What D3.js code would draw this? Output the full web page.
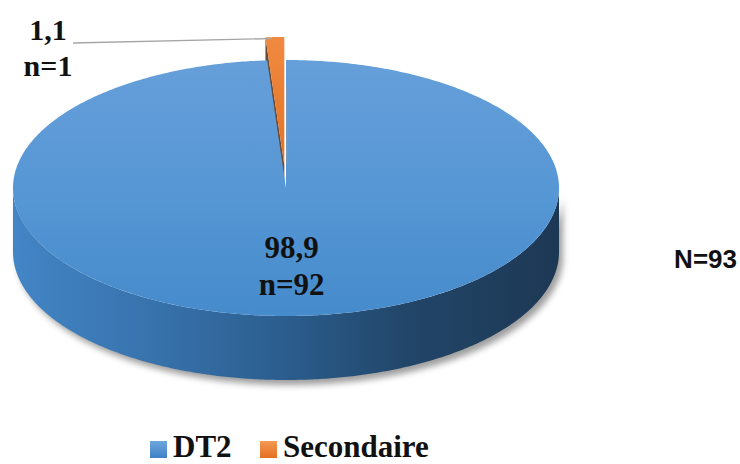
<!DOCTYPE html>
<html>
<head>
<meta charset="utf-8">
<script src="https://cdn.jsdelivr.net/npm/d3@7/dist/d3.min.js"></script>
<style>
  html, body { margin: 0; padding: 0; background: #ffffff; }
  svg { display: block; }
</style>
</head>
<body>
<svg id="chart" width="740" height="464"></svg>
<script>
// Répartition des patients par type de diabète
const categories = ["DT2", "Secondaire"];
const percents   = [98.9, 1.1];
const counts     = [92, 1];
const total      = 93;

const svg = d3.select("#chart");

// Geometry of the tilted pie
const cx = 286, cy = 188, rx = 273, ry = 128, depth = 64;
const explodeFrac = 0.18;   // radial pull-out of the small slice

const fmt = d3.formatLocale({decimal: ",", thousands: " ", grouping: [3], currency: ["", ""]}).format(".1f");

const pie = d3.pie().sort(null).value(d => d.v);
const arcs = pie(categories.map((c, i) => ({c, v: percents[i], n: counts[i], i})));

// project an angle (radians, 0 = 12 o'clock, clockwise) and relative radius to screen
function proj(a, r, off) {
  off = off || [0, 0];
  return [cx + off[0] + rx * r * Math.sin(a), cy + off[1] - ry * r * Math.cos(a)];
}
function arcPts(a0, a1, off, dy) {
  const n = Math.max(4, Math.ceil(Math.abs(a1 - a0) / 0.01));
  return d3.range(n + 1).map(k => {
    const p = proj(a0 + (a1 - a0) * k / n, 1, off);
    return [p[0], p[1] + (dy || 0)];
  });
}
const line = d3.line();
const closed = pts => line(pts) + "Z";

// ----- gradients & filters -----
const defs = svg.append("defs");

const gTop = defs.append("linearGradient").attr("id", "gTop")
  .attr("x1", 0).attr("y1", 0).attr("x2", 0).attr("y2", 1);
gTop.append("stop").attr("offset", "0%").attr("stop-color", "#669fda");
gTop.append("stop").attr("offset", "55%").attr("stop-color", "#5596d4");
gTop.append("stop").attr("offset", "100%").attr("stop-color", "#468bcc");

const gSide = defs.append("linearGradient").attr("id", "gSide")
  .attr("gradientUnits", "userSpaceOnUse")
  .attr("x1", cx - rx).attr("y1", 0).attr("x2", cx + rx).attr("y2", 0);
[["0%", "#4385c6"], ["25%", "#3873ad"], ["50%", "#2b5d8d"], ["72%", "#224669"], ["100%", "#1d3854"]]
  .forEach(s => gSide.append("stop").attr("offset", s[0]).attr("stop-color", s[1]));

const gOrange = defs.append("linearGradient").attr("id", "gOrange")
  .attr("x1", 0).attr("y1", 0).attr("x2", 0).attr("y2", 1);
gOrange.append("stop").attr("offset", "0%").attr("stop-color", "#f08a40");
gOrange.append("stop").attr("offset", "100%").attr("stop-color", "#e27226");

const gLegB = defs.append("linearGradient").attr("id", "gLegB")
  .attr("x1", 0).attr("y1", 0).attr("x2", 0).attr("y2", 1);
gLegB.append("stop").attr("offset", "0%").attr("stop-color", "#6ea6dc");
gLegB.append("stop").attr("offset", "100%").attr("stop-color", "#3f82c6");
const gLegO = defs.append("linearGradient").attr("id", "gLegO")
  .attr("x1", 0).attr("y1", 0).attr("x2", 0).attr("y2", 1);
gLegO.append("stop").attr("offset", "0%").attr("stop-color", "#f39a55");
gLegO.append("stop").attr("offset", "100%").attr("stop-color", "#e56f1f");

const blur = defs.append("filter").attr("id", "shadow")
  .attr("x", "-10%").attr("y", "-10%").attr("width", "120%").attr("height", "130%");
blur.append("feGaussianBlur").attr("stdDeviation", 3.2);

// ----- slices -----
const big = arcs[0], small = arcs[1];
const mid = (small.startAngle + small.endAngle) / 2;
const off = [rx * explodeFrac * Math.sin(mid), -ry * explodeFrac * Math.cos(mid)];

// drop shadow under the body
const sideTop = arcPts(Math.PI / 2, 3 * Math.PI / 2);
const sideBot = arcPts(3 * Math.PI / 2, Math.PI / 2, [0, 0], depth);
svg.append("path")
  .attr("d", closed(sideTop.concat(sideBot)))
  .attr("transform", "translate(4,5)")
  .attr("fill", "#505050").attr("opacity", 0.55)
  .attr("filter", "url(#shadow)");

// exploded slice: inner face and top
const apex = proj(0, 0, off);
const rimL = proj(small.startAngle, 1, off);
svg.append("path")
  .attr("d", closed([apex, rimL, [rimL[0], rimL[1] + depth], [apex[0], apex[1] + depth]]))
  .attr("fill", "#6a4a34");
svg.append("path")
  .attr("d", closed([apex].concat(arcPts(small.startAngle, small.endAngle, off))))
  .attr("fill", "url(#gOrange)");

// body side of the large slice
svg.append("path")
  .attr("d", closed(sideTop.concat(sideBot)))
  .attr("fill", "url(#gSide)");

// top face of the large slice
svg.append("path")
  .attr("d", closed([proj(0, 0)].concat(arcPts(big.startAngle, big.endAngle))))
  .attr("fill", "url(#gTop)");

// light edge along the cut at 12 o'clock
const e0 = proj(big.startAngle, 0.02), e1 = proj(big.startAngle, 0.8);
svg.append("line")
  .attr("x1", e0[0] + 1).attr("y1", e0[1] - 22).attr("x2", e1[0] + 1).attr("y2", e1[1])
  .attr("stroke", "#8f9aa6").attr("stroke-width", 1.2).attr("opacity", 0.8);

// ----- labels -----
const bigMid = (big.startAngle + big.endAngle) / 2;
const lp = proj(bigMid, 0.6);
const labelFont = "'Liberation Serif', 'Times New Roman', serif";
const bigLbl = svg.append("text")
  .attr("text-anchor", "middle")
  .attr("font-family", labelFont).attr("font-weight", "bold")
  .attr("font-size", 31).attr("fill", "#111");
bigLbl.append("tspan").attr("x", lp[0]).attr("y", lp[1] - 7).text(fmt(big.data.v));
bigLbl.append("tspan").attr("x", lp[0]).attr("y", lp[1] + 30).text("n=" + big.data.n);

// leader line to the small slice
const lead = proj(small.startAngle + 0.02, 1, off);
svg.append("polyline")
  .attr("points", [[73, 43], [lead[0], lead[1] + 1.5]].map(p => p.join(",")).join(" "))
  .attr("fill", "none").attr("stroke", "#a6a6a6").attr("stroke-width", 1.3);

const smLbl = svg.append("text")
  .attr("text-anchor", "middle")
  .attr("font-family", labelFont).attr("font-weight", "bold")
  .attr("font-size", 30).attr("fill", "#111");
smLbl.append("tspan").attr("x", 48).attr("y", 40).text(fmt(small.data.v));
smLbl.append("tspan").attr("x", 48).attr("y", 76).text("n=" + small.data.n);

// total
svg.append("text")
  .attr("x", 737).attr("y", 268).attr("text-anchor", "end")
  .attr("font-family", "'Liberation Sans', Arial, sans-serif").attr("font-weight", "bold")
  .attr("font-size", 26).attr("fill", "#111")
  .text("N=" + total);

// ----- legend -----
const legX = [150, 260];
const legFill = ["url(#gLegB)", "url(#gLegO)"];
const leg = svg.append("g");
categories.forEach((c, i) => {
  leg.append("rect")
    .attr("x", legX[i]).attr("y", 441).attr("width", 17).attr("height", 17)
    .attr("fill", legFill[i]);
  leg.append("text")
    .attr("x", legX[i] + 23).attr("y", 457)
    .attr("font-family", labelFont).attr("font-weight", "bold")
    .attr("font-size", 31).attr("fill", "#111")
    .text(c);
});
</script>
</body>
</html>
